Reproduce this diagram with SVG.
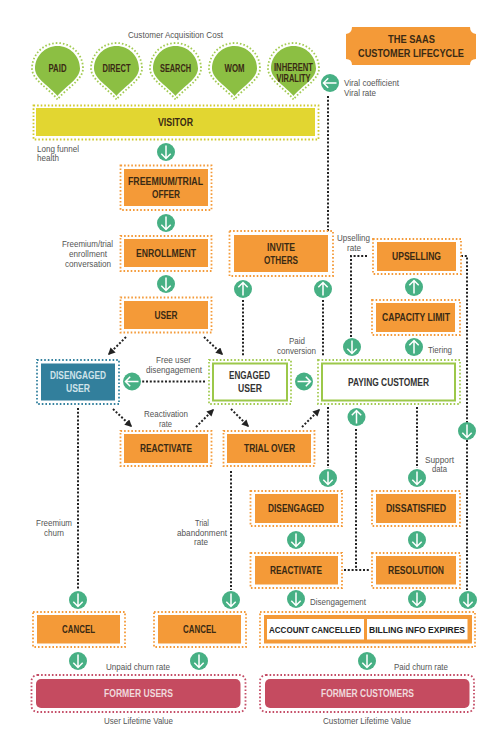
<svg xmlns="http://www.w3.org/2000/svg" width="500" height="744" viewBox="0 0 500 744">
<style>
text{font-family:"Liberation Sans",Arial,sans-serif;text-anchor:middle}
.b{font-size:10px;font-weight:700;fill:#3a2a14}
.n{font-size:10px;font-weight:700;fill:#333}
.w{font-size:10px;font-weight:700;fill:#f0d9dc}
.x{font-size:8.400px;font-weight:700;fill:#222}
.l{font-size:9px;fill:#555}
.s{text-anchor:start}
.od{fill:none;stroke-width:1.800;stroke-dasharray:1.600 2}
.o{stroke:#f49a38}.g{stroke:#a3cb52}.t{stroke:#35829f}.y{stroke:#cfc92e}.r{stroke:#c44c66}
.fo{fill:#f49a38}.fy{fill:#e2d631}.ft{fill:#327f9c}.fr{fill:#c54b60}
.fw{fill:#fff;stroke:#9cc84a;stroke-width:2}
.c{fill:none;stroke:#222;stroke-width:2;stroke-dasharray:2 1.800}
.h{fill:none;stroke:#222;stroke-width:2;stroke-dasharray:2 1.800;marker-end:url(#tip)}
.pin{fill:#8cbf43}.pino{fill:none;stroke:#a3cb52;stroke-width:1.800;stroke-dasharray:1.600 2}
</style>
<defs>
<marker id="tip" viewBox="0 0 10 10" refX="8" refY="5" markerWidth="3.600" markerHeight="3.600" markerUnits="strokeWidth" orient="auto"><path d="M0 0L10 5L0 10Z" fill="#222"/></marker>
<g id="arrow"><circle r="9" fill="#47b084"/><path d="M0-6.500V6.500M-4.700 1.800L0 6.500L4.700 1.800" fill="none" stroke="#fff" stroke-width="1.500"/></g>
<path id="pinshape" d="M0 28.500C-8 18-25.500 9-25.500-2.500C-25.500-16.600-14.100-28 0-28C14.100-28 25.500-16.600 25.500-2.500C25.500 9 8 18 0 28.500Z"/>
<path id="pinin" d="M0 25C-7 16-22.500 8-22.500-2.500C-22.500-14.900-12.400-25 0-25C12.400-25 22.500-14.900 22.500-2.500C22.500 8 7 16 0 25Z"/>
</defs>
<rect width="500" height="744" fill="#fff"/>

<g id="connectors">
<path class="c" d="M328 96V231"/>
<path class="c" d="M243 300V357"/>
<path class="c" d="M323 300V357"/>
<path class="c" d="M367 256H351V338"/>
<path class="c" d="M461 256H467V590"/>
<path class="c" d="M205 381.500H142"/>
<path class="h" d="M126 337L109 354"/>
<path class="h" d="M204 337L222 354"/>
<path class="h" d="M113 409L131 426"/>
<path class="h" d="M196 427L213 410"/>
<path class="h" d="M231 409L248 426"/>
<path class="h" d="M302 427L319 410"/>
<path class="c" d="M328 407V468"/>
<path class="c" d="M417 407V468"/>
<path class="c" d="M356 429V570M344 570H369"/>
<path class="c" d="M78 408V590"/>
<path class="c" d="M231 471V590"/>
<use href="#arrow" transform="translate(166,152)"/>
<use href="#arrow" transform="translate(166,223)"/>
<use href="#arrow" transform="translate(166,284)"/>
<use href="#arrow" transform="translate(330,83) rotate(90)"/>
<use href="#arrow" transform="translate(243,289) rotate(180)"/>
<use href="#arrow" transform="translate(323,289) rotate(180)"/>
<use href="#arrow" transform="translate(414,287) rotate(180)"/>
<use href="#arrow" transform="translate(414,347) rotate(180)"/>
<use href="#arrow" transform="translate(352,347)"/>
<use href="#arrow" transform="translate(132,381.500) rotate(90)"/>
<use href="#arrow" transform="translate(304,381.500) rotate(-90)"/>
<use href="#arrow" transform="translate(356.500,417) rotate(180)"/>
<use href="#arrow" transform="translate(467,431)"/>
<use href="#arrow" transform="translate(328,478)"/>
<use href="#arrow" transform="translate(417,478)"/>
<use href="#arrow" transform="translate(296,540)"/>
<use href="#arrow" transform="translate(417,540)"/>
<use href="#arrow" transform="translate(78,600)"/>
<use href="#arrow" transform="translate(231,600)"/>
<use href="#arrow" transform="translate(296,599)"/>
<use href="#arrow" transform="translate(417,599)"/>
<use href="#arrow" transform="translate(468,600)"/>
<use href="#arrow" transform="translate(78,661)"/>
<use href="#arrow" transform="translate(199,661)"/>
<use href="#arrow" transform="translate(367,661)"/>
</g>

<g id="title">
<path d="M352 27H470Q470 33 476 34V59Q470 59 470 65H352Q352 59 346 59V34Q352 33 352 27Z" fill="#f49a38"/>
<text class="b" x="411.500" y="43" style="font-size:11.500px" textLength="47" lengthAdjust="spacingAndGlyphs">THE SAAS</text>
<text class="b" x="411" y="57" style="font-size:11.500px" textLength="106" lengthAdjust="spacingAndGlyphs">CUSTOMER LIFECYCLE</text>
</g>
<g id="pin-paid" transform="translate(57.500,71)"><use href="#pinshape" class="pino"/><use href="#pinin" class="pin"/><text class="b" x="0" y="0.500" textLength="18" lengthAdjust="spacingAndGlyphs">PAID</text></g>
<g id="pin-direct" transform="translate(116.500,71)"><use href="#pinshape" class="pino"/><use href="#pinin" class="pin"/><text class="b" x="0" y="0.500" textLength="28" lengthAdjust="spacingAndGlyphs">DIRECT</text></g>
<g id="pin-search" transform="translate(175.500,71)"><use href="#pinshape" class="pino"/><use href="#pinin" class="pin"/><text class="b" x="0" y="0.500" textLength="31" lengthAdjust="spacingAndGlyphs">SEARCH</text></g>
<g id="pin-wom" transform="translate(234.500,71)"><use href="#pinshape" class="pino"/><use href="#pinin" class="pin"/><text class="b" x="0" y="0.500" textLength="20" lengthAdjust="spacingAndGlyphs">WOM</text></g>
<g id="pin-virality" transform="translate(293.500,71)"><use href="#pinshape" class="pino"/><use href="#pinin" class="pin"/><text class="b" x="0" y="-0.500" textLength="39" lengthAdjust="spacingAndGlyphs">INHERENT</text><text class="b" x="0" y="10.500" textLength="34" lengthAdjust="spacingAndGlyphs">VIRALITY</text></g>

<g id="visitor"><rect class="od y" x="33.500" y="105.500" width="285" height="34"/><rect class="fy" x="36" y="108" width="279" height="28"/><text class="b" x="175.500" y="126" textLength="35" lengthAdjust="spacingAndGlyphs">VISITOR</text></g>
<g id="offer"><rect class="od o" x="120.500" y="165.500" width="91" height="44.500"/><rect class="fo" x="124" y="169" width="84" height="37"/><text class="b" x="165.500" y="185" textLength="75" lengthAdjust="spacingAndGlyphs">FREEMIUM/TRIAL</text><text class="b" x="166" y="198" textLength="28" lengthAdjust="spacingAndGlyphs">OFFER</text></g>
<g id="enrollment"><rect class="od o" x="120.500" y="236" width="91" height="35"/><rect class="fo" x="124" y="239" width="84" height="28"/><text class="b" x="166" y="256.500" textLength="60" lengthAdjust="spacingAndGlyphs">ENROLLMENT</text></g>
<g id="user"><rect class="od o" x="120.500" y="297.500" width="91" height="35"/><rect class="fo" x="124" y="301" width="84" height="28"/><text class="b" x="166" y="318.500" textLength="23" lengthAdjust="spacingAndGlyphs">USER</text></g>
<g id="invite"><rect class="od o" x="229.500" y="231" width="103.500" height="45"/><rect class="fo" x="234" y="235" width="94" height="37"/><text class="b" x="281" y="251" textLength="28" lengthAdjust="spacingAndGlyphs">INVITE</text><text class="b" x="281" y="263.500" textLength="34" lengthAdjust="spacingAndGlyphs">OTHERS</text></g>
<g id="upselling"><rect class="od o" x="373" y="239" width="88" height="35"/><rect class="fo" x="377" y="242" width="79" height="29"/><text class="b" x="416.500" y="260" textLength="49" lengthAdjust="spacingAndGlyphs">UPSELLING</text></g>
<g id="capacity"><rect class="od o" x="372" y="300" width="88" height="35"/><rect class="fo" x="376" y="303" width="79" height="29"/><text class="b" x="416" y="321" textLength="68" lengthAdjust="spacingAndGlyphs">CAPACITY LIMIT</text></g>
<g id="disengaged-user"><rect class="od t" x="37" y="360" width="82" height="44"/><rect class="ft" x="41" y="363.500" width="74" height="37"/><text class="b" style="fill:#cfe3ea" x="78" y="379" textLength="56" lengthAdjust="spacingAndGlyphs">DISENGAGED</text><text class="b" style="fill:#cfe3ea" x="78" y="392" textLength="24" lengthAdjust="spacingAndGlyphs">USER</text></g>
<g id="engaged-user"><rect class="od g" x="209" y="360" width="82" height="44"/><rect class="fw" x="213" y="363.500" width="74" height="37"/><text class="n" x="249.500" y="379" textLength="41" lengthAdjust="spacingAndGlyphs">ENGAGED</text><text class="n" x="250" y="392" textLength="24" lengthAdjust="spacingAndGlyphs">USER</text></g>
<g id="paying-customer"><rect class="od g" x="318" y="360" width="142" height="44"/><rect class="fw" x="322" y="363.500" width="133" height="37"/><text class="n" x="388.500" y="385.500" textLength="81" lengthAdjust="spacingAndGlyphs">PAYING CUSTOMER</text></g>
<g id="reactivate-user"><rect class="od o" x="120.500" y="431" width="91" height="35"/><rect class="fo" x="124" y="434" width="84" height="29"/><text class="b" x="166" y="452" textLength="52" lengthAdjust="spacingAndGlyphs">REACTIVATE</text></g>
<g id="trial-over"><rect class="od o" x="223.500" y="431" width="91" height="35"/><rect class="fo" x="227" y="434" width="84" height="29"/><text class="b" x="269.500" y="452" textLength="51" lengthAdjust="spacingAndGlyphs">TRIAL OVER</text></g>
<g id="disengaged"><rect class="od o" x="250.500" y="491" width="91.500" height="35"/><rect class="fo" x="255" y="494" width="83" height="29"/><text class="b" x="296" y="512" textLength="56" lengthAdjust="spacingAndGlyphs">DISENGAGED</text></g>
<g id="dissatisfied"><rect class="od o" x="372" y="491" width="88" height="35"/><rect class="fo" x="376" y="494" width="80" height="29"/><text class="b" x="416" y="512" textLength="60" lengthAdjust="spacingAndGlyphs">DISSATISFIED</text></g>
<g id="reactivate-customer"><rect class="od o" x="250.500" y="553" width="91.500" height="35"/><rect class="fo" x="255" y="556" width="83" height="28.500"/><text class="b" x="296" y="573.500" textLength="52" lengthAdjust="spacingAndGlyphs">REACTIVATE</text></g>
<g id="resolution"><rect class="od o" x="372" y="553" width="88" height="35"/><rect class="fo" x="376" y="556" width="80" height="28.500"/><text class="b" x="416" y="573.500" textLength="56" lengthAdjust="spacingAndGlyphs">RESOLUTION</text></g>
<g id="cancel-user"><rect class="od o" x="33" y="612" width="92" height="35"/><rect class="fo" x="37" y="615" width="83" height="28.500"/><text class="b" x="78.500" y="633" textLength="33" lengthAdjust="spacingAndGlyphs">CANCEL</text></g>
<g id="cancel-trial"><rect class="od o" x="154" y="612" width="92" height="35"/><rect class="fo" x="158" y="615" width="83" height="28.500"/><text class="b" x="199.500" y="633" textLength="33" lengthAdjust="spacingAndGlyphs">CANCEL</text></g>
<g id="account-billing"><rect class="od o" x="260" y="612" width="215" height="35"/><rect class="fo" x="264" y="615" width="208" height="28.500"/><rect x="267" y="619" width="97" height="20.500" fill="#fff"/><rect x="367" y="619" width="100.500" height="20.500" fill="#fff"/><text class="x" x="315" y="632.500" textLength="92" lengthAdjust="spacingAndGlyphs">ACCOUNT CANCELLED</text><text class="x" x="417" y="632.500" textLength="96" lengthAdjust="spacingAndGlyphs">BILLING INFO EXPIRES</text></g>
<g id="former-users"><rect class="od r" x="31.500" y="675" width="214" height="37" rx="6"/><rect class="fr" x="36" y="679" width="204.500" height="29" rx="5"/><text class="w" x="138.500" y="697" textLength="69" lengthAdjust="spacingAndGlyphs">FORMER USERS</text></g>
<g id="former-customers"><rect class="od r" x="260" y="675" width="214" height="37" rx="6"/><rect class="fr" x="265" y="679" width="204.500" height="29" rx="5"/><text class="w" x="367.500" y="697" textLength="93" lengthAdjust="spacingAndGlyphs">FORMER CUSTOMERS</text></g>

<g id="labels">
<text class="l" x="175.500" y="38" textLength="95" lengthAdjust="spacingAndGlyphs">Customer Acquisition Cost</text>
<text class="l s" x="344" y="86" textLength="55" lengthAdjust="spacingAndGlyphs">Viral coefficient</text>
<text class="l s" x="344" y="96" textLength="32" lengthAdjust="spacingAndGlyphs">Viral rate</text>
<text class="l s" x="37" y="152" textLength="42" lengthAdjust="spacingAndGlyphs">Long funnel</text>
<text class="l s" x="37" y="161" textLength="22" lengthAdjust="spacingAndGlyphs">health</text>
<text class="l" x="87.500" y="247" textLength="51" lengthAdjust="spacingAndGlyphs">Freemium/trial</text>
<text class="l" x="88" y="257" textLength="38" lengthAdjust="spacingAndGlyphs">enrollment</text>
<text class="l" x="88" y="267" textLength="46" lengthAdjust="spacingAndGlyphs">conversation</text>
<text class="l" x="353.500" y="241" textLength="33" lengthAdjust="spacingAndGlyphs">Upselling</text>
<text class="l" x="354" y="251" textLength="14" lengthAdjust="spacingAndGlyphs">rate</text>
<text class="l" x="297" y="344" textLength="16" lengthAdjust="spacingAndGlyphs">Paid</text>
<text class="l" x="296.500" y="354" textLength="39" lengthAdjust="spacingAndGlyphs">conversion</text>
<text class="l s" x="428" y="353" textLength="24" lengthAdjust="spacingAndGlyphs">Tiering</text>
<text class="l" x="173.500" y="363" textLength="35" lengthAdjust="spacingAndGlyphs">Free user</text>
<text class="l" x="174" y="373" textLength="56" lengthAdjust="spacingAndGlyphs">disengagement</text>
<text class="l" x="166" y="417" textLength="44" lengthAdjust="spacingAndGlyphs">Reactivation</text>
<text class="l" x="165.500" y="427" textLength="13" lengthAdjust="spacingAndGlyphs">rate</text>
<text class="l" x="439.500" y="463" textLength="29" lengthAdjust="spacingAndGlyphs">Support</text>
<text class="l" x="439.500" y="472" textLength="15" lengthAdjust="spacingAndGlyphs">data</text>
<text class="l" x="54" y="526" textLength="36" lengthAdjust="spacingAndGlyphs">Freemium</text>
<text class="l" x="54" y="536" textLength="20" lengthAdjust="spacingAndGlyphs">churn</text>
<text class="l" x="202" y="526" textLength="14" lengthAdjust="spacingAndGlyphs">Trial</text>
<text class="l" x="202" y="536" textLength="50" lengthAdjust="spacingAndGlyphs">abandonment</text>
<text class="l" x="201" y="545" textLength="14" lengthAdjust="spacingAndGlyphs">rate</text>
<text class="l" x="338" y="605" textLength="56" lengthAdjust="spacingAndGlyphs">Disengagement</text>
<text class="l" x="138" y="670" textLength="64" lengthAdjust="spacingAndGlyphs">Unpaid churn rate</text>
<text class="l" x="421" y="670" textLength="54" lengthAdjust="spacingAndGlyphs">Paid churn rate</text>
<text class="l" x="138.500" y="724" textLength="69" lengthAdjust="spacingAndGlyphs">User Lifetime Value</text>
<text class="l" x="367" y="724" textLength="88" lengthAdjust="spacingAndGlyphs">Customer Lifetime Value</text>
</g>
</svg>
